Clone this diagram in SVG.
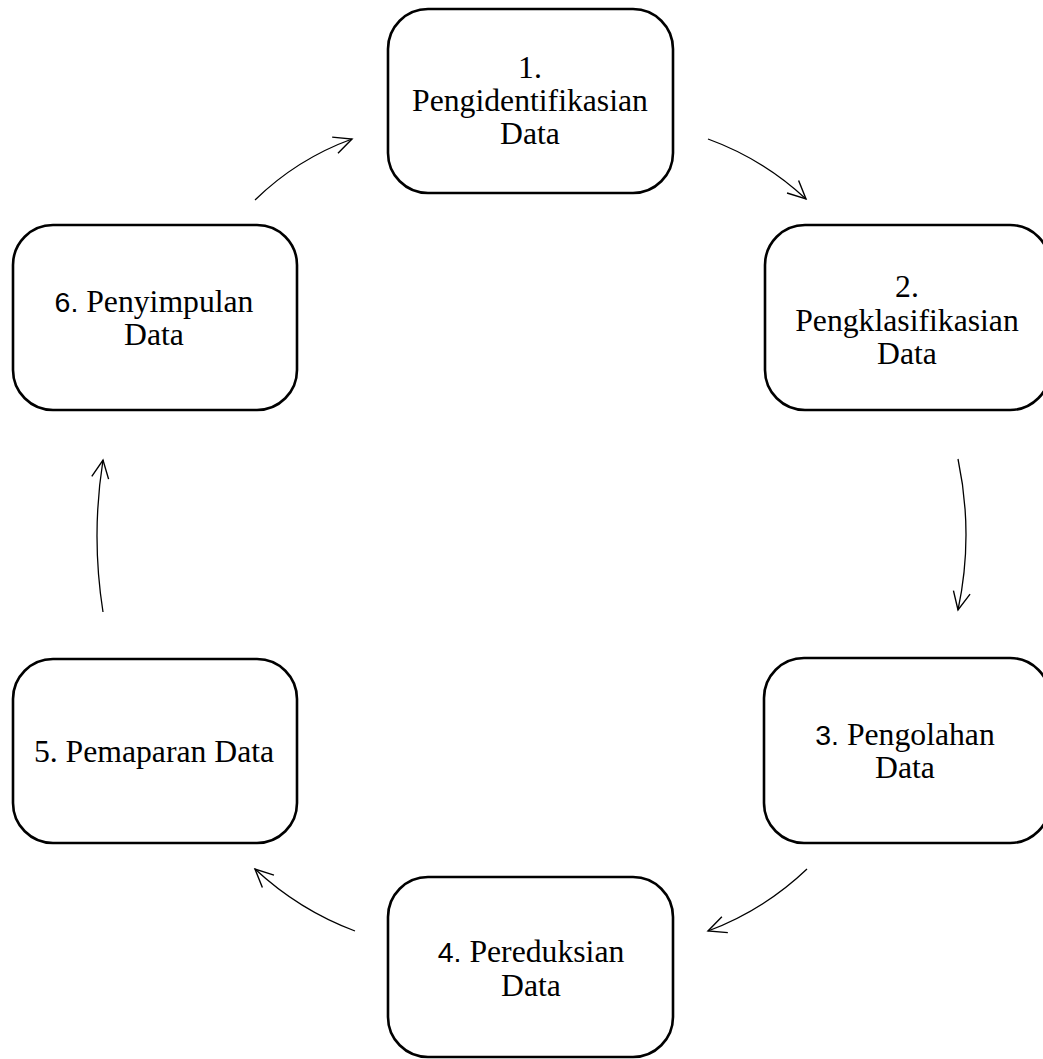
<svg xmlns="http://www.w3.org/2000/svg" width="1043" height="1059" viewBox="0 0 1043 1059">
<style>
.box{fill:#fff;stroke:#000;stroke-width:2.6}
.lbl{font-family:"Liberation Serif","Times New Roman",serif;font-size:31.7px;fill:#000;text-anchor:middle}
.num{font-family:"Liberation Sans",Arial,sans-serif;font-size:28.5px}
.arr{fill:none;stroke:#000;stroke-width:1.3;marker-end:url(#head)}
</style>
<defs>
<marker id="head" markerUnits="userSpaceOnUse" markerWidth="24" markerHeight="24" viewBox="-20 -12 24 24" refX="0" refY="0" orient="auto">
<path d="M-18,-8.5 L0,0 L-18,8.5" fill="none" stroke="#000" stroke-width="1.4"/>
</marker>
</defs>
<rect width="1043" height="1059" fill="#fff"/>
<g id="connectors">
<path class="arr" d="M255,200 Q297,159 352,139"/>
<path class="arr" d="M708,139 Q763,159 806,199"/>
<path class="arr" d="M958,459 Q974,535 958,610"/>
<path class="arr" d="M807,869 Q764,910 708,931"/>
<path class="arr" d="M355,931 Q299,910 255,869"/>
<path class="arr" d="M103,612 Q91,536 103,460"/>
</g>
<g id="node1">
<rect class="box" x="388" y="9" width="285" height="184" rx="40"/>
<text class="lbl"><tspan x="530" y="78">1.</tspan><tspan x="530" y="111">Pengidentifikasian</tspan><tspan x="530" y="144">Data</tspan></text>
</g>
<g id="node2">
<rect class="box" x="765" y="225" width="285" height="185" rx="40"/>
<text class="lbl"><tspan x="907" y="297">2.</tspan><tspan x="907" y="331">Pengklasifikasian</tspan><tspan x="907" y="364">Data</tspan></text>
</g>
<g id="node3">
<rect class="box" x="764" y="658" width="286" height="185" rx="40"/>
<text class="lbl"><tspan x="905" y="745"><tspan class="num">3.</tspan> Pengolahan</tspan><tspan x="905" y="778">Data</tspan></text>
</g>
<g id="node4">
<rect class="box" x="388" y="877" width="285" height="180" rx="40"/>
<text class="lbl"><tspan x="531" y="962"><tspan class="num">4.</tspan> Pereduksian</tspan><tspan x="531" y="996">Data</tspan></text>
</g>
<g id="node5">
<rect class="box" x="13" y="659" width="284" height="184" rx="40"/>
<text class="lbl" x="154" y="762">5. Pemaparan Data</text>
</g>
<g id="node6">
<rect class="box" x="13" y="225" width="284" height="185" rx="40"/>
<text class="lbl"><tspan x="154" y="312"><tspan class="num">6.</tspan> Penyimpulan</tspan><tspan x="154" y="345">Data</tspan></text>
</g>
</svg>
